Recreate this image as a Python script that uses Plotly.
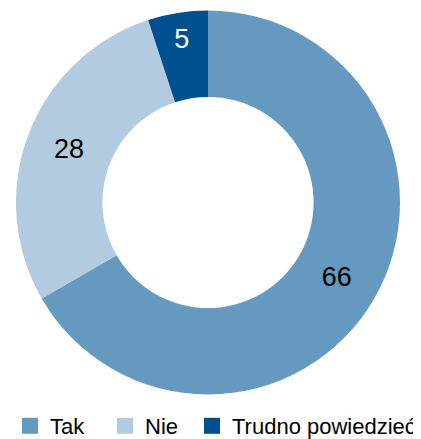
import plotly.graph_objects as go

labels = ["Tak", "Nie", "Trudno powiedzieć"]
values = [66, 28, 5]
colors = ["#6699C0", "#B3CBE0", "#00508F"]
text_colors = ["#000000", "#000000", "#FFFFFF"]

# page has an 8px body margin; size the figure to fit the window
W, H = 413, 431
cx, cy, r = 200, 194.5, 192   # centre/radius in figure pixels

fig = go.Figure(go.Pie(
    labels=labels,
    values=values,
    sort=False,
    direction="clockwise",
    rotation=0,
    hole=0.55,
    marker=dict(colors=colors, line=dict(width=0)),
    textinfo="value",
    textposition="inside",
    insidetextorientation="horizontal",
    insidetextfont=dict(family="Liberation Sans, Arial, sans-serif", size=27, color=text_colors),
    domain=dict(x=[(cx - r) / W, (cx + r) / W], y=[(H - cy - r) / H, (H - cy + r) / H]),
    automargin=False,
    showlegend=False,
))

legend_ids = ["legend", "legend2", "legend3"]
for lab, col, lid in zip(labels, colors, legend_ids):
    fig.add_trace(go.Scatter(
        x=[None], y=[None], mode="markers", name=lab,
        marker=dict(symbol="square", size=18, color=col),
        showlegend=True, hoverinfo="skip", legend=lid,
    ))

legend_style = dict(
    orientation="h",
    y=-8 / H, yanchor="bottom",
    font=dict(family="Liberation Sans, Arial, sans-serif", size=22, color="#000000"),
    itemclick=False, bgcolor="rgba(0,0,0,0)",
)

fig.update_layout(
    width=W, height=H,
    margin=dict(l=0, r=0, t=0, b=0, autoexpand=False),
    paper_bgcolor="white",
    plot_bgcolor="white",
    font=dict(family="Liberation Sans, Arial, sans-serif", size=22, color="#000000"),
    xaxis=dict(visible=False),
    yaxis=dict(visible=False),
    legend=dict(x=2 / W, xanchor="left", **legend_style),
    legend2=dict(x=97 / W, xanchor="left", **legend_style),
    legend3=dict(x=1.0, xanchor="right", **legend_style),
)

fig.write_html("out.html")
